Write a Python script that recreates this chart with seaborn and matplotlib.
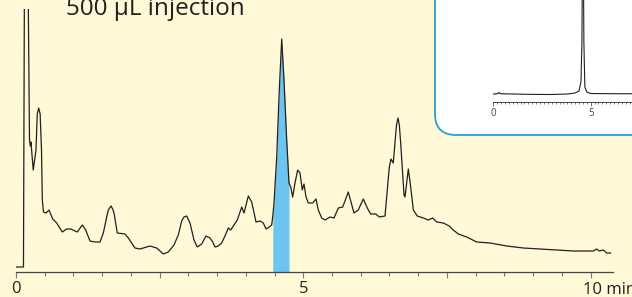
"""HPLC chromatogram, 500 uL injection, with full-scale inset"""
import matplotlib
matplotlib.use("Agg")
import matplotlib.pyplot as plt
import numpy as np
import seaborn as sns
from matplotlib.patches import FancyBboxPatch
from matplotlib.ticker import MultipleLocator

sns.set_theme(style="white")
plt.rcParams["font.family"] = ["Open Sans", "DejaVu Sans"]

# main trace: retention time (min) and detector response (arbitrary units)
main_time = [
    0.00, 0.12, 0.13, 0.145, 0.19, 0.215, 0.235, 0.25, 0.26, 0.30, 0.348, 0.37, 0.395, 0.42, 0.444,
    0.458, 0.479,
    0.522, 0.574, 0.639, 0.708, 0.806, 0.883, 0.952, 1.067, 1.154, 1.213, 1.288, 1.375, 1.462,
    1.520, 1.579, 1.607, 1.654, 1.683, 1.706, 1.763, 1.897, 1.955, 2.071, 2.158, 2.332, 2.449,
    2.564, 2.651, 2.750, 2.825, 2.884, 2.924, 2.971, 3.029, 3.098, 3.156, 3.232, 3.307, 3.377,
    3.424, 3.464, 3.521, 3.580, 3.638, 3.695, 3.737, 3.772, 3.852, 3.929, 3.969, 4.044, 4.103,
    4.178, 4.247, 4.305, 4.352, 4.409, 4.451, 4.47, 4.491, 4.538, 4.583, 4.625, 4.665, 4.712,
    4.752, 4.782, 4.816, 4.856, 4.903, 4.943, 4.983, 5.013, 5.048, 5.088, 5.164, 5.222, 5.262,
    5.321, 5.379, 5.466, 5.535, 5.610, 5.687, 5.784, 5.883, 5.958, 6.045, 6.115, 6.174, 6.261,
    6.324, 6.423, 6.498, 6.527, 6.567, 6.623, 6.649, 6.672, 6.696, 6.754, 6.771, 6.829, 6.870,
    6.916, 6.985, 7.090, 7.177, 7.253, 7.323, 7.438, 7.542, 7.612, 7.699, 7.845, 8.019, 8.251,
    8.541, 8.830, 9.121, 9.412, 9.701, 10.049, 10.108, 10.153, 10.223, 10.282, 10.352,
]
main_signal = [
    5, 5, 5, 263, 420, 263, 132, 126, 130, 102, 122, 158, 164, 158, 122,
    72, 60,
    59, 62, 53, 49, 40, 43, 43, 40, 47, 42, 31, 30, 30,
    39, 55, 62, 66, 63, 59, 39, 38, 34, 24, 23, 26, 24,
    18, 20, 27, 37, 51, 55, 56, 49, 32, 25, 28, 36, 34,
    30, 25, 26, 29, 36, 44, 42, 45, 52, 65, 59, 76, 70,
    50, 51, 49, 43, 45, 47, 56, 69, 115, 182, 233, 192, 132,
    89, 85, 75, 89, 102, 99, 82, 88, 75, 69, 69, 73, 62,
    54, 52, 55, 54, 64, 65, 80, 59, 62, 73, 64, 58, 58,
    55, 56, 105, 113, 109, 147, 154, 147, 129, 77, 75, 103, 85,
    62, 56, 54, 52, 54, 50, 49, 46, 42, 38, 35, 30, 29,
    26, 24, 23, 22, 21, 21, 23, 21, 22, 19, 19,
]

# collected fraction (min)
fraction_start = 4.47
fraction_end = 4.752

# inset: same sample at full scale
inset_time = [0.0, 0.2, 0.3, 0.35, 0.5, 1.0, 2.0, 3.0, 3.8, 4.2, 4.4, 4.5, 4.55, 4.6, 4.65, 4.7, 4.8, 5.0, 6.0, 7.6]
inset_signal = [8, 8.2, 9.5, 8.3, 8.2, 8, 7.6, 7.5, 8, 9, 11, 20, 60, 220, 60, 15, 10, 8.5, 8.3, 8.2]

main_ticks = [0, 2.5, 5, 7.5, 10]
main_tick_labels = ["0", "", "5", "", ""]
inset_ticks = [0, 5]
inset_tick_labels = ["0", "5"]
title = "500 \u03bcL injection"

BG = "#fff9d7"
INK = "#231f20"
FILL = "#6dc4ee"
FRAME = "#2a9fd8"
W, H = 632, 297

fig = plt.figure(figsize=(W / 100, H / 100), dpi=100, facecolor=BG)

# main chromatogram axes (pixel box: x 16..613, y 9..272)
ax = fig.add_axes([16 / W, (H - 272) / H, 597 / W, 263 / H], zorder=1)
ax.set_facecolor("none")
sns.lineplot(x=main_time, y=main_signal, ax=ax, color=INK, lw=0.9, estimator=None)
t = np.array(main_time)
s = np.array(main_signal)
sel = (t >= fraction_start) & (t <= fraction_end)
ax.fill_between(t[sel], 0, s[sel], color=FILL, lw=0, zorder=0)
ax.set_xlim(0, 597 / 57.45)
ax.set_ylim(0, 263)
for side in ["left", "right", "top"]:
    ax.spines[side].set_visible(False)
ax.spines["bottom"].set_color("#444444")
ax.spines["bottom"].set_linewidth(0.9)
ax.set_yticks([])
ax.set_xticks(main_ticks)
ax.set_xticklabels(main_tick_labels, fontsize=12, color=INK)
ax.xaxis.set_minor_locator(MultipleLocator(0.5))
ax.tick_params(axis="x", which="major", direction="out", length=4.5, width=0.8, color="#777777",
               pad=2, bottom=True)
ax.tick_params(axis="x", which="minor", direction="out", length=3, width=0.8, color="#777777", bottom=True)
ax.annotate("10 min", xy=(10, 0), xycoords=("data", "axes fraction"), xytext=(-5.5, -7.5),
            textcoords="offset points", ha="left", va="top", fontsize=12, color=INK,
            annotation_clip=False)
ax.set_xlabel("")
ax.set_ylabel("")

fig.text(66 / W, (H - 15) / H, title, fontsize=17.5, color=INK, va="baseline", ha="left")

# rounded inset frame drawn in pixel coordinates
frame_ax = fig.add_axes([0, 0, 1, 1], zorder=2)
frame_ax.set_xlim(0, W)
frame_ax.set_ylim(H, 0)
frame_ax.axis("off")
frame_ax.patch.set_alpha(0)
frame_ax.add_patch(FancyBboxPatch((435 + 20, -40), 240, 175 - 20,
                                  boxstyle="round,pad=20,rounding_size=21",
                                  facecolor="white", edgecolor=FRAME, lw=1.3))

# inset axes (x=0 at px 493.3, 19.48 px per min, axis at y 102)
iax = fig.add_axes([493.3 / W, (H - 102) / H, 160 / W, 110 / H], zorder=3)
iax.set_facecolor("none")
sns.lineplot(x=inset_time, y=inset_signal, ax=iax, color=INK, lw=0.8, estimator=None)
iax.set_xlim(0, 160 / 19.48)
iax.set_ylim(0, 110)
for side in ["left", "right", "top"]:
    iax.spines[side].set_visible(False)
iax.spines["bottom"].set_color("#444444")
iax.spines["bottom"].set_linewidth(0.7)
iax.set_yticks([])
iax.set_xticks(inset_ticks)
iax.set_xticklabels(inset_tick_labels, fontsize=7, color="#444444")
iax.xaxis.set_minor_locator(MultipleLocator(0.2))
iax.tick_params(axis="x", which="major", direction="out", length=3, width=0.6, color="#555555",
                pad=1.5, bottom=True)
iax.tick_params(axis="x", which="minor", direction="out", length=1.5, width=0.5, color="#555555",
                bottom=True)
iax.set_xlabel("")
iax.set_ylabel("")

fig.savefig("out.png", dpi=100, facecolor=BG)
